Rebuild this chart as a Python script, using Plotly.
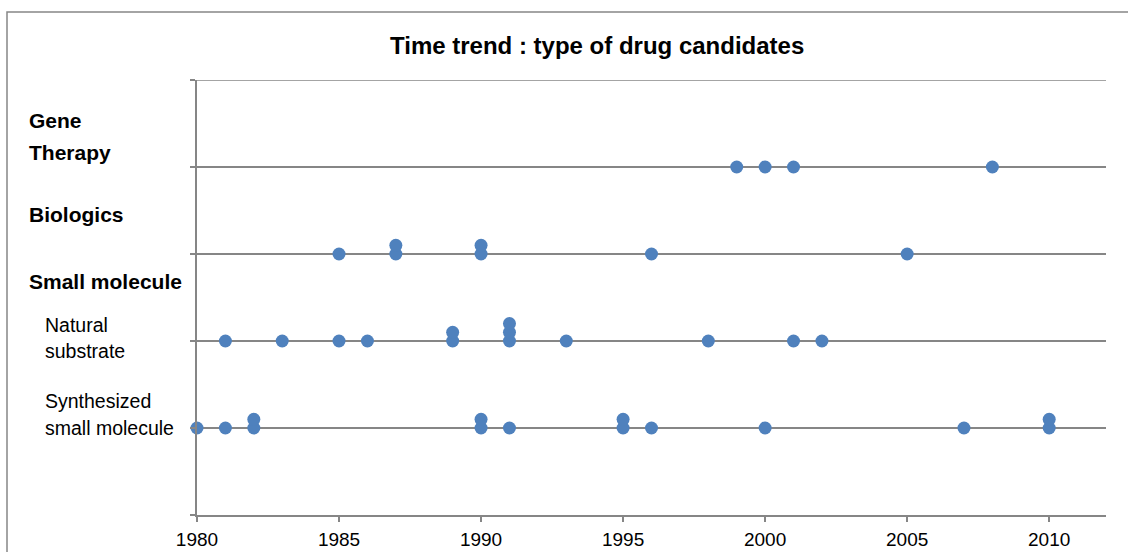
import plotly.graph_objects as go

# ---- data ----
categories = ["Synthesized small molecule", "Natural substrate", "Biologics", "Gene Therapy"]
levels = [1, 2, 3, 4]
synthesized_years = [1980, 1981, 1982, 1982, 1990, 1990, 1991, 1995, 1995, 1996, 2000, 2007, 2010, 2010]
natural_years = [1981, 1983, 1985, 1986, 1989, 1989, 1991, 1991, 1991, 1993, 1998, 2001, 2002]
biologics_years = [1985, 1987, 1987, 1990, 1990, 1996, 2005]
gene_years = [1999, 2000, 2001, 2008]
x_ticks = [1980, 1985, 1990, 1995, 2000, 2005, 2010]
y_ticks = [0, 1, 2, 3, 4, 5]
title_text = "Time trend : type of drug candidates"

series = [synthesized_years, natural_years, biologics_years, gene_years]
STACK = 0.1

# ---- layout constants (pixels) ----
W, H = 1128, 552
L, R, T, B = 197, 1106, 80, 515
PW, PH = R - L, B - T
GRAY = "#868686"
BLUE = "#4F81BD"
FONT = "Liberation Sans, Arial, sans-serif"


def px(x):
    return (x - L) / PW


def py(y):
    return (B - y) / PH


fig = go.Figure()
for years, lvl, name in zip(series, levels, categories):
    xs, ys, seen = [], [], {}
    for yr in years:
        k = seen.get(yr, 0)
        seen[yr] = k + 1
        xs.append(yr)
        ys.append(lvl + STACK * k)
    fig.add_trace(go.Scatter(
        x=xs, y=ys, mode="markers", name=name,
        marker=dict(color=BLUE, size=13, line=dict(width=0)),
        cliponaxis=False, showlegend=False,
    ))

annotations = [
    dict(text="<b>" + title_text + "</b>", x=px(597), y=py(46), size=24),
    dict(text="<b>Gene</b>", x=px(27), y=py(120), size=21, left=True),
    dict(text="<b>Therapy</b>", x=px(27), y=py(152), size=21, left=True),
    dict(text="<b>Biologics</b>", x=px(27), y=py(215), size=21, left=True),
    dict(text="<b>Small molecule</b>", x=px(27), y=py(281), size=21, left=True),
    dict(text="Natural", x=px(43), y=py(325), size=19.5, left=True),
    dict(text="substrate", x=px(43), y=py(351), size=19.5, left=True),
    dict(text="Synthesized", x=px(43), y=py(401), size=19.5, left=True),
    dict(text="small molecule", x=px(43), y=py(428), size=19.5, left=True),
]
for a in annotations:
    fig.add_annotation(
        text=a["text"], xref="paper", yref="paper", x=a["x"], y=a["y"],
        xanchor="left" if a.get("left") else "center", yanchor="middle",
        showarrow=False, font=dict(family=FONT, size=a["size"], color="#000000"),
    )

# outer chart border
fig.add_shape(type="rect", xref="paper", yref="paper",
              x0=px(7), y0=py(570), x1=px(1150), y1=py(12),
              line=dict(color=GRAY, width=1.5), layer="below")
# top gridline (at the range edge)
fig.add_shape(type="line", xref="paper", yref="y",
              x0=0, x1=1, y0=y_ticks[-1], y1=y_ticks[-1],
              line=dict(color=GRAY, width=1.5), layer="below")

fig.update_layout(
    width=W, height=H,
    margin=dict(l=L, r=W - R, t=T, b=H - B, pad=0, autoexpand=False),
    paper_bgcolor="white", plot_bgcolor="white",
    showlegend=False,
    xaxis=dict(range=[1980, 2012], tickvals=x_ticks, ticks="outside", ticklen=5,
               tickcolor=GRAY, tickwidth=1.5, showgrid=False, zeroline=False,
               showline=True, linecolor=GRAY, linewidth=1.5, automargin=False,
               ticklabelstandoff=1,
               tickfont=dict(family=FONT, size=19, color="#000000")),
    yaxis=dict(range=[0, 5], tickvals=y_ticks, showticklabels=False,
               ticks="outside", ticklen=5, tickcolor=GRAY, tickwidth=1.5,
               showgrid=True, gridcolor=GRAY, gridwidth=1.5, zeroline=False,
               showline=True, linecolor=GRAY, linewidth=1.5, automargin=False),
)

fig.write_html("out.html", config={"displayModeBar": False},
               post_script="document.body.style.margin='0';document.body.style.overflow='hidden';")
